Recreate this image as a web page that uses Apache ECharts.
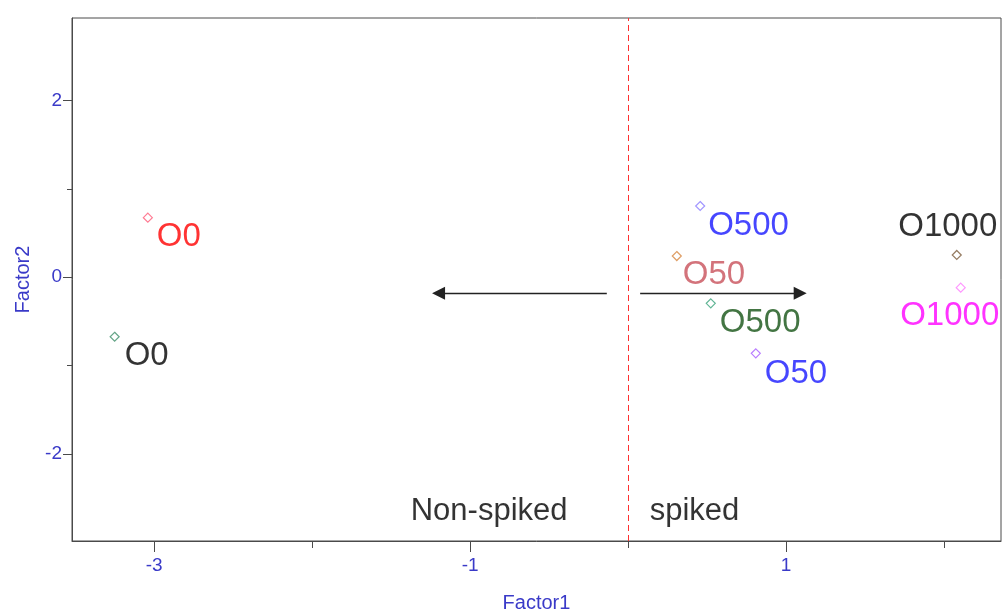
<!DOCTYPE html>
<html>
<head>
<meta charset="utf-8">
<script src="https://cdn.jsdelivr.net/npm/echarts@6/dist/echarts.min.js"></script>
<style>
  html, body { margin: 0; padding: 0; background: #fff; }
  #chart { width: 1002px; height: 612px; }
</style>
</head>
<body>
<div id="chart"></div>
<script>
// Factor scores of each sample
const sampleNames = ['O0', 'O0', 'O500', 'O50', 'O500', 'O50', 'O1000', 'O1000'];
const factor1 = [-3.04, -3.25, 0.456, 0.308, 0.523, 0.808, 2.08, 2.105];
const factor2 = [0.674, -0.673, 0.806, 0.24, -0.295, -0.861, 0.252, -0.118];

// Group annotations
const groupNames = ['Non-spiked', 'spiked'];
const groupF1 = [-0.88, 0.42];
const groupF2 = [-2.655, -2.655];

// Direction arrows (start -> end, in factor units)
const arrowStartF1 = [-0.135, 0.076];
const arrowEndF1 = [-1.20, 1.089];
const arrowF2 = [-0.18, -0.18];

// Divider between groups
const dividerF1 = 0;

// Tick values
const xLabelTicks = [-3, -1, 1];
const xMinorTicks = [-2, 0, 2];
const yLabelTicks = [-2, 0, 2];
const yMinorTicks = [-1, 1];

const xRange = [-3.52, 2.36];
const yRange = [-2.984, 2.933];

// Styling per sample
const markerColors = ['#ff5a78', '#3f8f6a', '#8a7cff', '#d7863f', '#3aa27a', '#a75cff', '#7a5a3a', '#ff7cff'];
const labelColors = ['#ff0000', '#000000', '#1818ff', '#c8505a', '#145214', '#1818ff', '#000000', '#ff00ff'];
const labelAligns = ['left', 'left', 'left', 'left', 'left', 'left', 'center', 'center'];
const labelOffsets = [[9, 19], [10, 19], [8, 20], [6, 19], [9, 20], [9, 21], [-9, -28], [-11, 28]];

const FONT = '"Liberation Sans", Arial, Helvetica, sans-serif';
const axisColor = '#4a4a4a';
const tickTextColor = '#3a3ac8';

const chart = echarts.init(document.getElementById('chart'), null, { renderer: 'canvas' });

const points = factor1.map((x, i) => ({
  value: [x, factor2[i]],
  itemStyle: { color: 'transparent', borderColor: markerColors[i], borderWidth: 1.2 },
  label: {
    show: true,
    formatter: sampleNames[i],
    position: 'inside',
    align: labelAligns[i],
    verticalAlign: 'middle',
    offset: labelOffsets[i],
    color: labelColors[i],
    fontSize: 33,
    fontFamily: FONT
  }
}));

const groupPoints = groupNames.map((n, i) => ({
  value: [groupF1[i], groupF2[i]],
  label: {
    show: true,
    formatter: n,
    position: 'inside',
    align: 'center',
    verticalAlign: 'middle',
    color: '#000',
    fontSize: 31,
    fontFamily: FONT
  }
}));

const arrowLines = arrowStartF1.map((x, i) => [
  { coord: [x, arrowF2[i]], symbol: 'none' },
  { coord: [arrowEndF1[i], arrowF2[i]], symbol: 'triangle' }
]);

const option = {
  animation: false,
  backgroundColor: '#fff',
  grid: {
    left: 72, right: 1, top: 18, bottom: 71,
    outerBoundsMode: 'none',
    containLabel: false,
    show: true, borderColor: axisColor, borderWidth: 1, backgroundColor: '#fff'
  },
  xAxis: [
    {
      type: 'value', min: xRange[0], max: xRange[1],
      name: 'Factor1', nameLocation: 'middle', nameGap: 52,
      nameTextStyle: { color: tickTextColor, fontSize: 20, fontFamily: FONT },
      axisLine: { show: true, onZero: false, lineStyle: { color: axisColor, width: 1 } },
      axisTick: { show: true, customValues: xLabelTicks, length: 11, lineStyle: { color: axisColor } },
      axisLabel: { show: true, customValues: xLabelTicks, margin: 15, color: tickTextColor, fontSize: 19, fontFamily: FONT },
      splitLine: { show: false }
    },
    {
      type: 'value', min: xRange[0], max: xRange[1], position: 'bottom',
      axisLine: { show: false, onZero: false },
      axisTick: { show: true, customValues: xMinorTicks, length: 7, lineStyle: { color: axisColor } },
      axisLabel: { show: false },
      splitLine: { show: false }
    }
  ],
  yAxis: [
    {
      type: 'value', min: yRange[0], max: yRange[1],
      name: 'Factor2', nameLocation: 'middle', nameGap: 39,
      nameTextStyle: { color: tickTextColor, fontSize: 20, fontFamily: FONT },
      axisLine: { show: true, onZero: false, lineStyle: { color: axisColor, width: 1 } },
      axisTick: { show: true, customValues: yLabelTicks, length: 9, lineStyle: { color: axisColor } },
      axisLabel: { show: true, customValues: yLabelTicks, margin: 10, color: tickTextColor, fontSize: 19, fontFamily: FONT },
      splitLine: { show: false }
    },
    {
      type: 'value', min: yRange[0], max: yRange[1], position: 'left',
      axisLine: { show: false, onZero: false },
      axisTick: { show: true, customValues: yMinorTicks, length: 5, lineStyle: { color: axisColor } },
      axisLabel: { show: false },
      splitLine: { show: false }
    }
  ],
  series: [
    {
      type: 'scatter',
      symbol: 'diamond',
      symbolSize: 9,
      data: points,
      z: 5,
      markLine: {
        silent: true,
        symbol: ['none', 'none'],
        label: { show: false },
        lineStyle: { color: '#ff3030', width: 1, type: [6, 4] },
        data: [{ xAxis: dividerF1 }]
      }
    },
    {
      type: 'scatter',
      symbolSize: 0,
      data: groupPoints,
      z: 4
    },
    {
      type: 'line',
      data: [],
      markLine: {
        silent: true,
        symbolSize: 13,
        label: { show: false },
        lineStyle: { color: '#222', width: 1.3, type: 'solid' },
        itemStyle: { color: '#000' },
        data: arrowLines
      }
    }
  ]
};

chart.setOption(option);
</script>
</body>
</html>
